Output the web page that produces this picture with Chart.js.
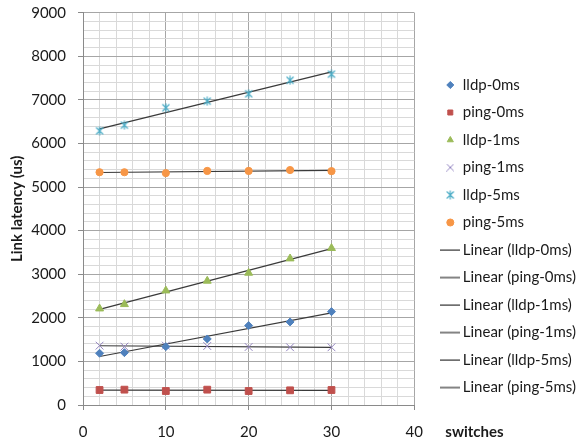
<!DOCTYPE html>
<html>
<head>
<meta charset="utf-8">
<script src="https://cdn.jsdelivr.net/npm/chart.js@4.4.0/dist/chart.umd.min.js"></script>
<style>
  html, body { margin: 0; padding: 0; background: #fff; }
  canvas { display: block; }
</style>
</head>
<body>
<canvas id="Grafica" width="586" height="443"></canvas>
<script>
// values
const switches = [2, 5, 10, 15, 20, 25, 30];
const lldp0 = [1187, 1201, 1339, 1515, 1821, 1905, 2142];
const ping0 = [344, 352, 321, 352, 321, 337, 344];
const lldp1 = [2211, 2311, 2624, 2847, 3030, 3359, 3597];
const ping1 = [1362, 1339, 1362, 1354, 1331, 1324, 1324];
const lldp5 = [6290, 6420, 6820, 6970, 7140, 7450, 7590];
const ping5 = [5340, 5340, 5320, 5370, 5370, 5390, 5365];
const seriesNames = ['lldp-0ms', 'ping-0ms', 'lldp-1ms', 'ping-1ms', 'lldp-5ms', 'ping-5ms'];
const xTickLabels = [0, 10, 20, 30, 40];
const yTickLabels = [0, 1000, 2000, 3000, 4000, 5000, 6000, 7000, 8000, 9000];

const allSeries = [lldp0, ping0, lldp1, ping1, lldp5, ping5];
const colors = ['#4F81BD', '#C0504D', '#9BBB59', '#9384c0', '#4BACC6', '#F79646'];

Chart.defaults.font.family = 'Lato, "Noto Sans", sans-serif';
Chart.defaults.color = '#1a1a1a';

// small canvas icons: asterisk marker, x for the legend, line for trendlines
function icon(w, h, draw) {
    const c = document.createElement('canvas');
    c.width = w; c.height = h;
    draw(c.getContext('2d'));
    return c;
}
function asterisk(color) {
    return icon(10, 10, function(g){
        g.strokeStyle = color;
        g.lineWidth = 1.2;
        g.beginPath();
        g.moveTo(1.5, 1.5); g.lineTo(8.5, 8.5);
        g.moveTo(8.5, 1.5); g.lineTo(1.5, 8.5);
        g.moveTo(5, 0.5); g.lineTo(5, 9.5);
        g.stroke();
    });
}
const xIcon = icon(8, 8, function(g){
    g.strokeStyle = colors[3];
    g.lineWidth = 1;
    g.beginPath();
    g.moveTo(0.5, 0.5); g.lineTo(7.5, 7.5);
    g.moveTo(7.5, 0.5); g.lineTo(0.5, 7.5);
    g.stroke();
});
const lineIcon = icon(20, 4, function(g){
    g.fillStyle = '#333';
    g.fillRect(0, 1.5, 20, 1.2);
});

const markers = [
    {pointStyle: 'rectRot', radius: 4},
    {pointStyle: 'rect', radius: 4.8},
    {pointStyle: 'triangle', radius: 4.6},
    {pointStyle: 'crossRot', radius: 5.5},
    {pointStyle: asterisk(colors[4]), radius: 5},
    {pointStyle: 'circle', radius: 3.6}
];

function linearFit(xs, ys) {
    const n = xs.length;
    let sx = 0, sy = 0, sxx = 0, sxy = 0;
    for (let i = 0; i < n; i++) { sx += xs[i]; sy += ys[i]; sxx += xs[i]*xs[i]; sxy += xs[i]*ys[i]; }
    const b = (n*sxy - sx*sy) / (n*sxx - sx*sx);
    const a = (sy - b*sx) / n;
    return x => a + b*x;
}

const datasets = [];
allSeries.forEach(function(ys, i){
    datasets.push({
        label: seriesNames[i],
        data: switches.map((x, k) => ({x: x, y: ys[k]})),
        pointStyle: markers[i].pointStyle,
        pointRadius: markers[i].radius,
        pointHoverRadius: markers[i].radius,
        backgroundColor: colors[i],
        borderColor: colors[i],
        borderWidth: 1
    });
});
allSeries.forEach(function(ys, i){
    const f = linearFit(switches, ys);
    const x0 = switches[0], x1 = switches[switches.length - 1];
    datasets.push({
        label: 'Linear (' + seriesNames[i] + ')',
        trend: true,
        data: [{x: x0, y: f(x0)}, {x: x1, y: f(x1)}],
        showLine: true,
        borderColor: '#3a3a3a',
        backgroundColor: '#3a3a3a',
        borderWidth: 1.2,
        pointRadius: 0,
        pointHoverRadius: 0
    });
});

const majorGrid = '#a6a6a6', minorGrid = '#d9d9d9', axisGray = '#8a8a8a';

const switchesLabel = {
    id: 'switchesLabel',
    afterDraw(chart) {
        const ctx = chart.ctx, sx = chart.scales.x;
        ctx.save();
        ctx.font = 'bold 15px Lato, "Noto Sans", sans-serif';
        ctx.fillStyle = '#1a1a1a';
        ctx.textAlign = 'left';
        ctx.textBaseline = 'middle';
        ctx.fillText('switches', chart.chartArea.right + 31, sx.top + 5 + 13 + 9);
        ctx.restore();
    }
};

new Chart(document.getElementById('Grafica').getContext('2d'), {
    type: 'scatter',
    data: { datasets: datasets },
    plugins: [switchesLabel],
    options: {
        responsive: false,
        animation: false,
        layout: { padding: { top: 12.7, bottom: 2, left: 0, right: 0 } },
        plugins: {
            tooltip: { enabled: false },
            legend: {
                position: 'right',
                maxWidth: 155.5,
                title: { display: true, text: '', font: { size: 10 }, padding: { top: 6.8, bottom: 0 } },
                labels: {
                    usePointStyle: true,
                    boxWidth: 10,
                    boxHeight: 5,
                    padding: 12.5,
                    font: { size: 15 },
                    color: '#1a1a1a',
                    generateLabels(chart) {
                        const items = Chart.defaults.plugins.legend.labels.generateLabels(chart);
                        items.forEach(function(it){
                            const ds = chart.data.datasets[it.datasetIndex];
                            if (ds.trend) it.pointStyle = lineIcon;
                            else if (ds.pointStyle === 'crossRot') it.pointStyle = xIcon;
                        });
                        return items;
                    }
                }
            }
        },
        scales: {
            x: {
                type: 'linear',
                min: 0, max: 40,
                ticks: {
                    stepSize: 2, autoSkip: false, maxRotation: 0, padding: 13,
                    font: { size: 15 },
                    callback: v => xTickLabels.includes(v) ? v : ''
                },
                grid: {
                    color: c => (c.tick && c.tick.value % 10 === 0) ? majorGrid : minorGrid,
                    tickColor: c => (c.tick && c.tick.value % 10 === 0) ? axisGray : 'rgba(0,0,0,0)',
                    tickLength: 5
                },
                border: { color: axisGray },
                afterFit(s) { s.height = 36; }
            },
            y: {
                min: 0, max: 9000,
                ticks: {
                    stepSize: 200, autoSkip: false, padding: 12,
                    font: { size: 15 },
                    callback: v => yTickLabels.includes(v) ? v : ''
                },
                grid: {
                    color: c => (c.tick && c.tick.value % 1000 === 0) ? majorGrid : minorGrid,
                    tickColor: c => (c.tick && c.tick.value % 1000 === 0) ? axisGray : 'rgba(0,0,0,0)',
                    tickLength: 5
                },
                border: { color: axisGray },
                title: {
                    display: true, text: 'Link latency (us)',
                    font: { size: 15, weight: 'bold' },
                    padding: { top: 8, bottom: 0 }
                },
                afterFit(s) { s.width = 83; s.paddingTop = 0; s.paddingBottom = 0; }
            },
            gap: {
                type: 'linear',
                position: 'right',
                display: true,
                grid: { display: false },
                ticks: { display: false },
                border: { display: false },
                afterFit(s) { s.width = 18.5; }
            }
        }
    }
});
</script>
</body>
</html>
